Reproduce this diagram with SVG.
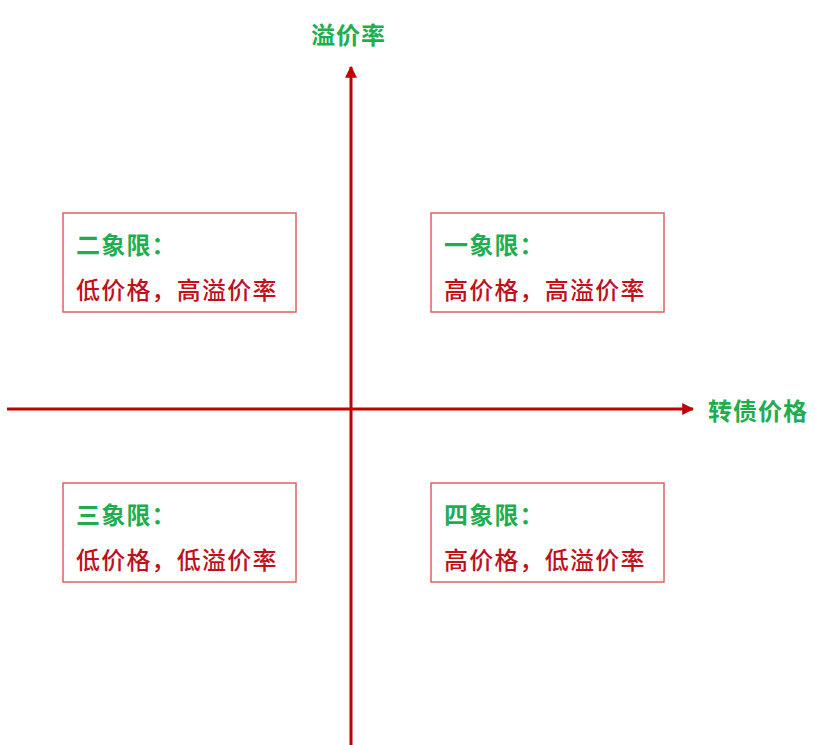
<svg xmlns="http://www.w3.org/2000/svg" width="815" height="745" viewBox="0 0 815 745">
<style>
.box{fill:#fff;stroke:#e06060;stroke-width:1.5}
.t{font-family:"Noto Sans CJK SC","Noto Sans",sans-serif;font-size:24px;letter-spacing:1.2px}
.g{fill:#1fae4f;font-weight:bold}
.r{fill:#c0101a;font-weight:500}
.ax{stroke:#c00000;stroke-width:3;fill:none}
.lbl{font-family:"Noto Sans CJK SC","Noto Sans",sans-serif;font-size:24px;letter-spacing:1px;fill:#1fae4f;font-weight:bold}
</style>
<defs>
<marker id="ah" viewBox="0 0 10 10" refX="9" refY="5" markerWidth="4" markerHeight="4" orient="auto" markerUnits="strokeWidth">
<path d="M0,0 L10,5 L0,10 z" fill="#c00000"/>
</marker>
</defs>
<rect width="815" height="745" fill="#fff"/>
<g id="connectors">
<line class="ax" x1="7" y1="409" x2="693" y2="409" marker-end="url(#ah)"/>
<line class="ax" x1="351" y1="745" x2="351" y2="67" marker-end="url(#ah)"/>
</g>
<g id="label-y"><text class="lbl" x="311" y="44">溢价率</text></g>
<g id="label-x"><text class="lbl" x="708" y="420">转债价格</text></g>
<g id="q2">
<rect class="box" x="63" y="213" width="233" height="99"/>
<text class="t g" x="76" y="254">二象限：</text>
<text class="t r" x="76" y="299">低价格，高溢价率</text>
</g>
<g id="q1">
<rect class="box" x="431" y="213" width="233" height="99"/>
<text class="t g" x="444" y="254">一象限：</text>
<text class="t r" x="444" y="299">高价格，高溢价率</text>
</g>
<g id="q3">
<rect class="box" x="63" y="483" width="233" height="99"/>
<text class="t g" x="76" y="524">三象限：</text>
<text class="t r" x="76" y="569">低价格，低溢价率</text>
</g>
<g id="q4">
<rect class="box" x="431" y="483" width="233" height="99"/>
<text class="t g" x="444" y="524">四象限：</text>
<text class="t r" x="444" y="569">高价格，低溢价率</text>
</g>
</svg>
